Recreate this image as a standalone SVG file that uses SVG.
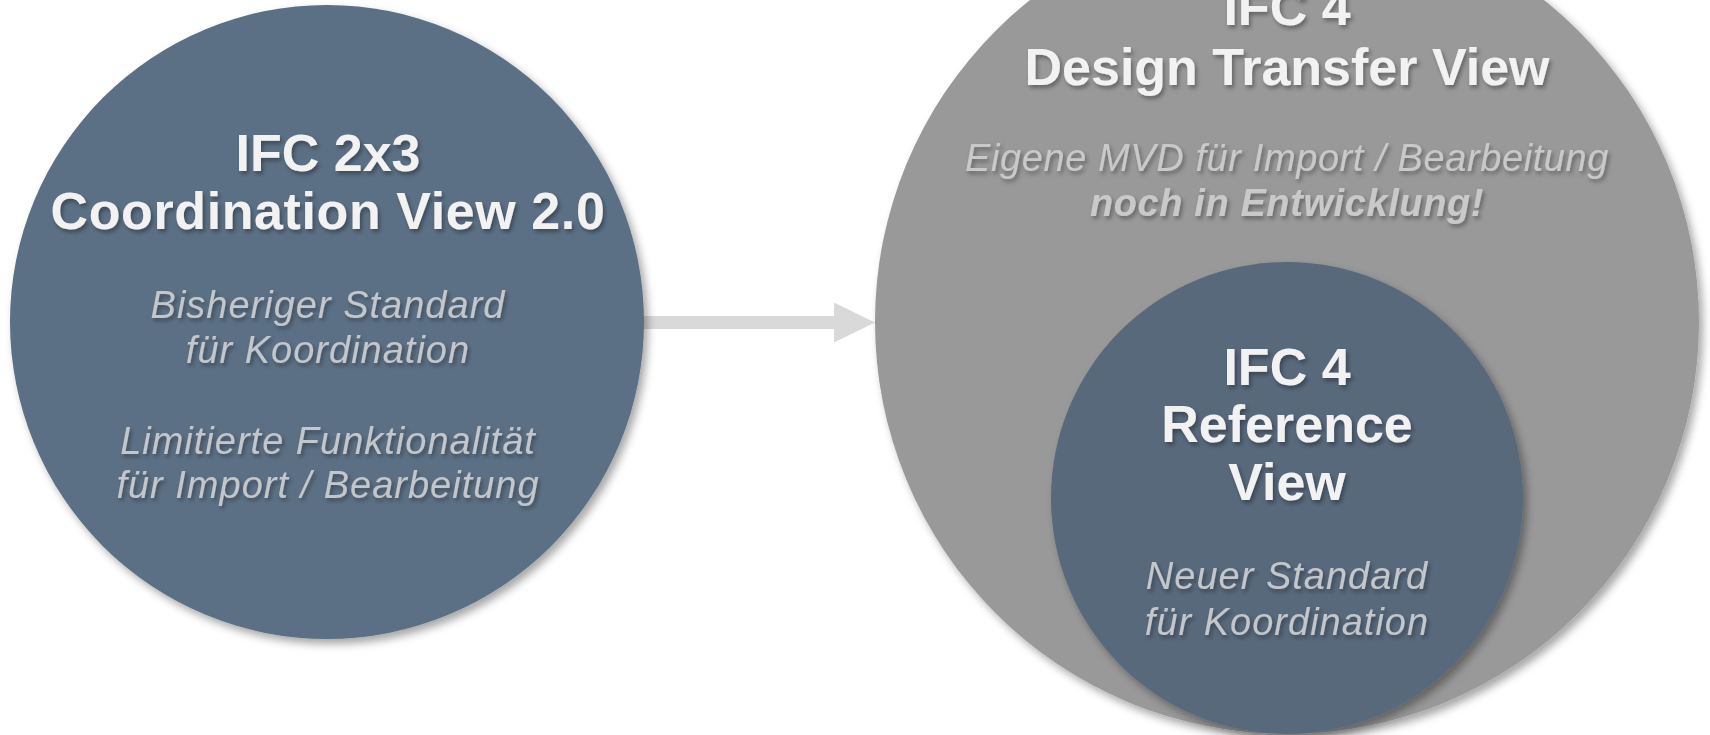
<svg xmlns="http://www.w3.org/2000/svg" width="1710" height="735" viewBox="0 0 1710 735">
  <defs>
    <filter id="disc-shadow" x="-10%" y="-10%" width="125%" height="125%">
      <feDropShadow dx="4" dy="5" stdDeviation="4" flood-color="#000" flood-opacity="0.35"/>
    </filter>
    <filter id="text-shadow" x="-5%" y="-20%" width="110%" height="150%">
      <feDropShadow dx="2" dy="3" stdDeviation="2" flood-color="#000" flood-opacity="0.35"/>
    </filter>
    <marker id="arrowhead" markerUnits="userSpaceOnUse" markerWidth="41" markerHeight="40" refX="0" refY="20" orient="auto">
      <path d="M0,0 L41,20 L0,40 Z" fill="#d9d9d9"/>
    </marker>
    <style>
      .disc { filter: url(#disc-shadow); }
      .blue { fill: #5b6f85; }
      .blue-dark { fill: #59697c; }
      .grey { fill: #999999; }
      .title { font-family: "Liberation Sans", Arial, sans-serif; font-weight: bold; font-size: 52px; fill: #f2f2f2; text-anchor: middle; filter: url(#text-shadow); }
      .wide { letter-spacing: 0.6px; }
      .note { font-family: "Liberation Sans", Arial, sans-serif; font-style: italic; font-size: 38px; fill: #c3c6ca; text-anchor: middle; letter-spacing: 1px; filter: url(#text-shadow); }
      .note-grey { fill: #c9c9c9; letter-spacing: 0.6px; }
      .strong { font-weight: bold; }
      .link { stroke: #d9d9d9; stroke-width: 13; fill: none; }
    </style>
  </defs>

  <rect width="1710" height="735" fill="#ffffff"/>

  <!-- connectors -->
  <g id="connectors">
    <line class="link" x1="640" y1="322.5" x2="834" y2="322.5" marker-end="url(#arrowhead)"/>
  </g>

  <!-- IFC 2x3 Coordination View 2.0 -->
  <g id="node-ifc2x3">
    <circle class="disc blue" cx="327" cy="322" r="317"/>
    <text class="title" x="328" y="171">IFC 2x3</text>
    <text class="title wide" x="328" y="229">Coordination View 2.0</text>
    <text class="note" x="328" y="318">Bisheriger Standard</text>
    <text class="note" x="328" y="363">für Koordination</text>
    <text class="note" x="328" y="454">Limitierte Funktionalität</text>
    <text class="note" x="328" y="498">für Import / Bearbeitung</text>
  </g>

  <!-- IFC 4 Design Transfer View -->
  <g id="node-ifc4-dtv">
    <circle class="disc grey" cx="1287" cy="322" r="412"/>
    <text class="title" x="1287" y="25">IFC 4</text>
    <text class="title" x="1287" y="85">Design Transfer View</text>
    <text class="note note-grey" x="1287" y="171">Eigene MVD für Import / Bearbeitung</text>
    <text class="note note-grey strong" x="1287" y="216">noch in Entwicklung!</text>
  </g>

  <!-- IFC 4 Reference View -->
  <g id="node-ifc4-rv">
    <circle class="disc blue-dark" cx="1287" cy="498" r="236"/>
    <text class="title" x="1287" y="385">IFC 4</text>
    <text class="title" x="1287" y="442">Reference</text>
    <text class="title" x="1287" y="500">View</text>
    <text class="note" x="1287" y="589">Neuer Standard</text>
    <text class="note" x="1287" y="635">für Koordination</text>
  </g>
</svg>
